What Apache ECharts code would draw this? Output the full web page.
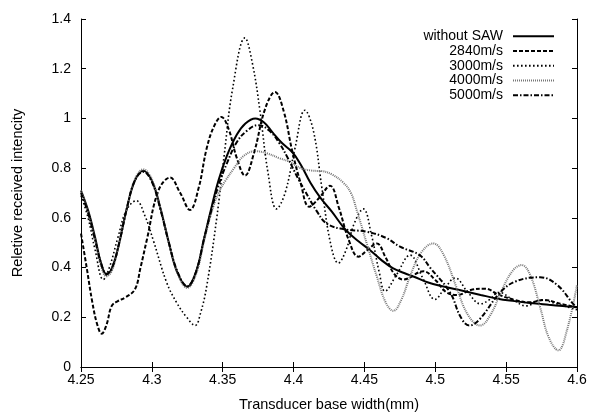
<!DOCTYPE html>
<html>
<head>
<meta charset="utf-8">
<script src="https://cdn.jsdelivr.net/npm/echarts@6/dist/echarts.min.js"></script>
<style>html,body{margin:0;padding:0;background:#fff}#c{width:591px;height:417px}</style>
</head>
<body>
<div id="c"></div>
<script>
var xTicks = [4.25, 4.3, 4.35, 4.4, 4.45, 4.5, 4.55, 4.6];
var yTicks = [0, 0.2, 0.4, 0.6, 0.8, 1, 1.2, 1.4];
var seriesNames = ['without SAW', '2840m/s', '3000m/s', '4000m/s', '5000m/s'];

var noSaw = [[4.25,0.71],[4.255,0.63],[4.26,0.52],[4.264,0.42],[4.268,0.373],[4.272,0.40],[4.277,0.5],[4.282,0.63],[4.288,0.75],[4.294,0.79],[4.30,0.75],[4.306,0.64],[4.312,0.50],[4.318,0.38],[4.325,0.323],[4.331,0.38],[4.337,0.52],[4.342,0.64],[4.347,0.75],[4.353,0.85],[4.36,0.935],[4.366,0.98],[4.373,1.0],[4.379,0.985],[4.385,0.945],[4.392,0.90],[4.399,0.865],[4.405,0.815],[4.412,0.74],[4.419,0.68],[4.427,0.625],[4.437,0.55],[4.446,0.505],[4.454,0.47],[4.462,0.43],[4.47,0.398],[4.478,0.378],[4.485,0.363],[4.495,0.34],[4.505,0.325],[4.52,0.306],[4.532,0.29],[4.544,0.275],[4.556,0.265],[4.567,0.257],[4.58,0.25],[4.59,0.245],[4.6,0.24]];

var v2840 = [[4.25,0.537],[4.254,0.40],[4.258,0.26],[4.2615,0.17],[4.2646,0.134],[4.268,0.17],[4.2717,0.246],[4.276,0.265],[4.281,0.279],[4.288,0.312],[4.292,0.40],[4.2964,0.51],[4.3046,0.709],[4.3128,0.762],[4.32,0.70],[4.3269,0.632],[4.333,0.72],[4.3387,0.88],[4.344,0.97],[4.349,1.006],[4.354,0.96],[4.36,0.84],[4.3657,0.77],[4.372,0.86],[4.38,1.04],[4.3869,1.106],[4.393,1.03],[4.399,0.87],[4.405,0.74],[4.411,0.645],[4.418,0.68],[4.4257,0.729],[4.432,0.64],[4.439,0.51],[4.4457,0.444],[4.452,0.47],[4.4587,0.497],[4.465,0.44],[4.471,0.375],[4.4775,0.352],[4.4916,0.385],[4.50,0.35],[4.508,0.30],[4.516,0.29],[4.525,0.31],[4.535,0.315],[4.545,0.29],[4.556,0.27],[4.566,0.26],[4.577,0.27],[4.588,0.255],[4.6,0.24]];

var v3000 = [[4.25,0.69],[4.255,0.60],[4.26,0.47],[4.2657,0.352],[4.27,0.40],[4.276,0.52],[4.282,0.63],[4.289,0.669],[4.295,0.61],[4.301,0.51],[4.3105,0.339],[4.3175,0.259],[4.3246,0.20],[4.3305,0.167],[4.3345,0.22],[4.3387,0.325],[4.3458,0.60],[4.351,0.85],[4.357,1.12],[4.3657,1.324],[4.371,1.22],[4.3763,1.03],[4.382,0.78],[4.388,0.636],[4.394,0.70],[4.401,0.88],[4.408,1.033],[4.414,0.95],[4.42,0.72],[4.426,0.50],[4.4316,0.418],[4.437,0.47],[4.443,0.58],[4.4492,0.636],[4.455,0.53],[4.4605,0.38],[4.4645,0.305],[4.4725,0.37],[4.4822,0.45],[4.491,0.36],[4.4998,0.272],[4.507,0.32],[4.514,0.358],[4.523,0.30],[4.532,0.254],[4.538,0.27],[4.545,0.30],[4.555,0.27],[4.564,0.246],[4.575,0.27],[4.585,0.255],[4.6,0.23]];

var v4000 = [[4.25,0.71],[4.255,0.62],[4.26,0.51],[4.264,0.41],[4.268,0.365],[4.272,0.39],[4.277,0.50],[4.282,0.63],[4.288,0.755],[4.294,0.795],[4.30,0.755],[4.306,0.64],[4.312,0.50],[4.318,0.38],[4.325,0.318],[4.331,0.37],[4.337,0.51],[4.342,0.62],[4.347,0.70],[4.352,0.75],[4.358,0.80],[4.365,0.85],[4.373,0.868],[4.381,0.86],[4.39,0.84],[4.397,0.826],[4.405,0.80],[4.413,0.79],[4.42,0.788],[4.427,0.775],[4.435,0.742],[4.4405,0.70],[4.4446,0.63],[4.452,0.49],[4.4587,0.365],[4.465,0.26],[4.4704,0.226],[4.476,0.27],[4.4822,0.365],[4.49,0.46],[4.4986,0.497],[4.506,0.45],[4.515,0.32],[4.523,0.21],[4.5316,0.167],[4.539,0.21],[4.547,0.31],[4.555,0.39],[4.561,0.41],[4.567,0.37],[4.574,0.24],[4.58,0.12],[4.5868,0.067],[4.593,0.15],[4.6,0.33]];

var v5000 = [[4.25,0.70],[4.255,0.62],[4.26,0.51],[4.264,0.42],[4.268,0.375],[4.272,0.40],[4.277,0.50],[4.282,0.63],[4.288,0.75],[4.294,0.785],[4.30,0.745],[4.306,0.635],[4.312,0.50],[4.318,0.385],[4.325,0.325],[4.331,0.38],[4.337,0.52],[4.342,0.63],[4.347,0.73],[4.353,0.82],[4.36,0.905],[4.367,0.95],[4.375,0.973],[4.383,0.95],[4.39,0.90],[4.396,0.84],[4.403,0.76],[4.408,0.709],[4.416,0.63],[4.4234,0.577],[4.435,0.555],[4.4516,0.544],[4.465,0.52],[4.4751,0.484],[4.489,0.45],[4.4963,0.40],[4.5104,0.30],[4.518,0.2],[4.524,0.167],[4.531,0.19],[4.5457,0.299],[4.557,0.345],[4.5739,0.361],[4.586,0.33],[4.5974,0.253],[4.6,0.24]];

var FONT = 'Liberation Sans, Arial, sans-serif';
var chart = echarts.init(document.getElementById('c'), null, {renderer: 'canvas'});

function fmt(v) { return String(+(+v).toFixed(2)); }

var axisCommon = {
  axisLine: {show: true, lineStyle: {color: '#000', width: 1}},
  axisTick: {show: true, inside: true, length: 5, lineStyle: {color: '#000', width: 1}},
  splitLine: {show: false}
};

function mkSeries(name, data, color, width, dash) {
  return {
    name: name, type: 'line', data: data, smooth: 0.4, symbol: 'none',
    xAxisIndex: 0, yAxisIndex: 0,
    lineStyle: {color: color, width: width, type: dash},
    itemStyle: {color: color, opacity: 0},
    animation: false, z: 3
  };
}

chart.setOption({
  backgroundColor: '#fff',
  animation: false,
  grid: {left: 81, right: 14, top: 19, bottom: 45, containLabel: false},
  legend: {
    orient: 'vertical', right: 31, top: 24, align: 'right',
    itemWidth: 41, itemHeight: 10, itemGap: 0,
    data: seriesNames,
    itemStyle: {opacity: 0, borderWidth: 0},
    textStyle: {fontFamily: FONT, fontSize: 14, color: '#000', lineHeight: 14.7, padding: [0, 5, 0, 0]}
  },
  xAxis: [
    Object.assign({
      type: 'value', min: xTicks[0], max: xTicks[xTicks.length - 1], interval: 0.05,
      position: 'bottom',
      name: 'Transducer base width(mm)', nameLocation: 'middle', nameGap: 30,
      nameTextStyle: {fontFamily: FONT, fontSize: 14.5, color: '#000'},
      axisLabel: {fontFamily: FONT, fontSize: 14, color: '#000', margin: 6, formatter: fmt}
    }, axisCommon),
    Object.assign({
      type: 'value', min: xTicks[0], max: xTicks[xTicks.length - 1], interval: 0.05,
      position: 'top', axisLabel: {show: false}
    }, axisCommon)
  ],
  yAxis: [
    Object.assign({
      type: 'value', min: yTicks[0], max: yTicks[yTicks.length - 1], interval: 0.2,
      position: 'left',
      name: 'Reletive received intencity', nameLocation: 'middle', nameGap: 56,
      nameTextStyle: {fontFamily: FONT, fontSize: 14.5, color: '#000'},
      axisLabel: {fontFamily: FONT, fontSize: 14, color: '#000', margin: 10, formatter: fmt}
    }, axisCommon),
    Object.assign({
      type: 'value', min: yTicks[0], max: yTicks[yTicks.length - 1], interval: 0.2,
      position: 'right', axisLabel: {show: false}
    }, axisCommon)
  ],
  series: [
    mkSeries(seriesNames[0], noSaw, '#000', 2, 'solid'),
    mkSeries(seriesNames[1], v2840, '#000', 2, [4, 2]),
    mkSeries(seriesNames[2], v3000, '#000', 1.6, [1.6, 2.4]),
    mkSeries(seriesNames[3], v4000, '#777', 2, [1, 1]),
    mkSeries(seriesNames[4], v5000, '#000', 2, [5, 2, 1.5, 2])
  ]
});
</script>
</body>
</html>
